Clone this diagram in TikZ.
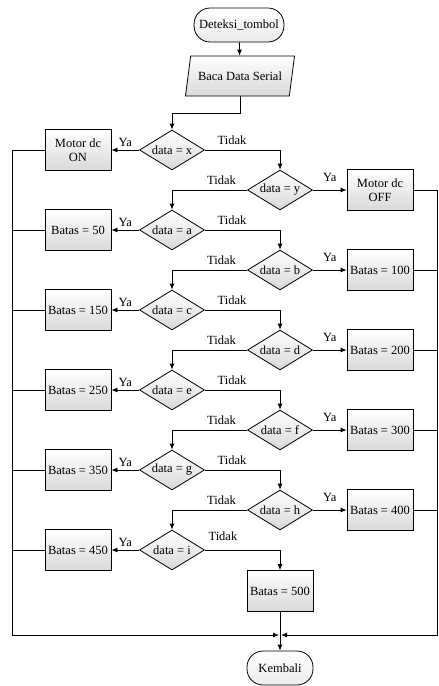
\documentclass[tikz,border=0pt]{standalone}
\usepackage{fontspec}
\setmainfont{Liberation Serif}
\usetikzlibrary{shapes.geometric,arrows.meta}
\begin{document}
\begin{tikzpicture}[x=1pt,y=-1pt,
        every node/.style={font=\fontsize{12.5}{13.5}\selectfont},
        >={Latex[length=6pt,width=5pt]},
        line width=0.8pt,
        box/.style={draw, rectangle, align=center, top color=white,
          bottom color=black!15, minimum width=66pt, minimum height=41pt,
          inner sep=2pt},
        test/.style={draw, diamond, aspect=1.6, top color=white,
          bottom color=black!15, minimum width=65pt, minimum height=40pt,
          inner sep=0pt},
        term/.style={draw, rectangle, rounded corners=16pt,
          minimum height=34pt, inner sep=5pt, top color=white,
          bottom color=black!8},
        io/.style={draw, trapezium, trapezium left angle=70,
          trapezium right angle=110, trapezium stretches=true,
          minimum width=110pt, minimum height=40pt, inner sep=2pt,
          top color=white, bottom color=black!15}]
        \useasboundingbox (0,0) rectangle (439,686);
        \coordinate (leftbus) at (12,635);
        \coordinate (rightbus) at (437,635);
        \coordinate (join) at (280,635);
        \node[term] (start) at (239,25) {Deteksi\_tombol};
        \node[io] (read) at (240,76) {Baca Data Serial};
        \draw[->] (start) -- (read);
        \foreach \row/\val/\res in {0/x/{Motor dc\\ON}, 2/a/{Batas = 50},
            4/c/{Batas = 150}, 6/e/{Batas = 250}, 8/g/{Batas = 350},
            10/i/{Batas = 450}} {
          \node[test] (d\row) at (172,{150+40*\row}) {data = \val};
          \node[box] (r\row) at (78,{150+40*\row}) {\res};
          \draw[->] (d\row.west) -- node[above] {Ya} (r\row.east);
          \draw (r\row.west) -- (r\row.west -| leftbus);
        }
        \foreach \row/\val/\res in {1/y/{Motor dc\\OFF}, 3/b/{Batas = 100},
            5/d/{Batas = 200}, 7/f/{Batas = 300}, 9/h/{Batas = 400}} {
          \node[test] (d\row) at (280,{150+40*\row}) {data = \val};
          \node[box] (r\row) at (380,{150+40*\row}) {\res};
          \draw[->] (d\row.east) -- node[above=5pt] {Ya} (r\row.west);
          \draw (r\row.east) -- (r\row.east -| rightbus);
        }
        \draw[->] (read.south) -- ++(0,17) -| (d0.north);
        \foreach \row in {0,2,...,8} {
          \pgfmathtruncatemacro{\nxt}{\row+1}
          \draw[->] (d\row.east) -| node[pos=0.18, above=2pt] {Tidak} (d\nxt.north);
        }
        \foreach \row in {1,3,...,9} {
          \pgfmathtruncatemacro{\nxt}{\row+1}
          \draw[->] (d\row.west) -| node[pos=0.17, above=2pt] {Tidak} (d\nxt.north);
        }
        \node[box] (last) at (280,591) {Batas = 500};
        \draw[->] (d10.east) -| node[pos=0.12, above=6pt] {Tidak} (last.north);
        \node[term, minimum width=66pt] (stop) at (280,668) {Kembali};
        \draw[->, shorten >=1pt] (r0.west -| leftbus) -- (leftbus) -- (join);
        \draw[->, shorten >=1pt] (r1.east -| rightbus) -- (rightbus) -- (join);
        \draw (last) -- (join);
        \draw[->] (join) -- (stop);
\end{tikzpicture}
\end{document}
